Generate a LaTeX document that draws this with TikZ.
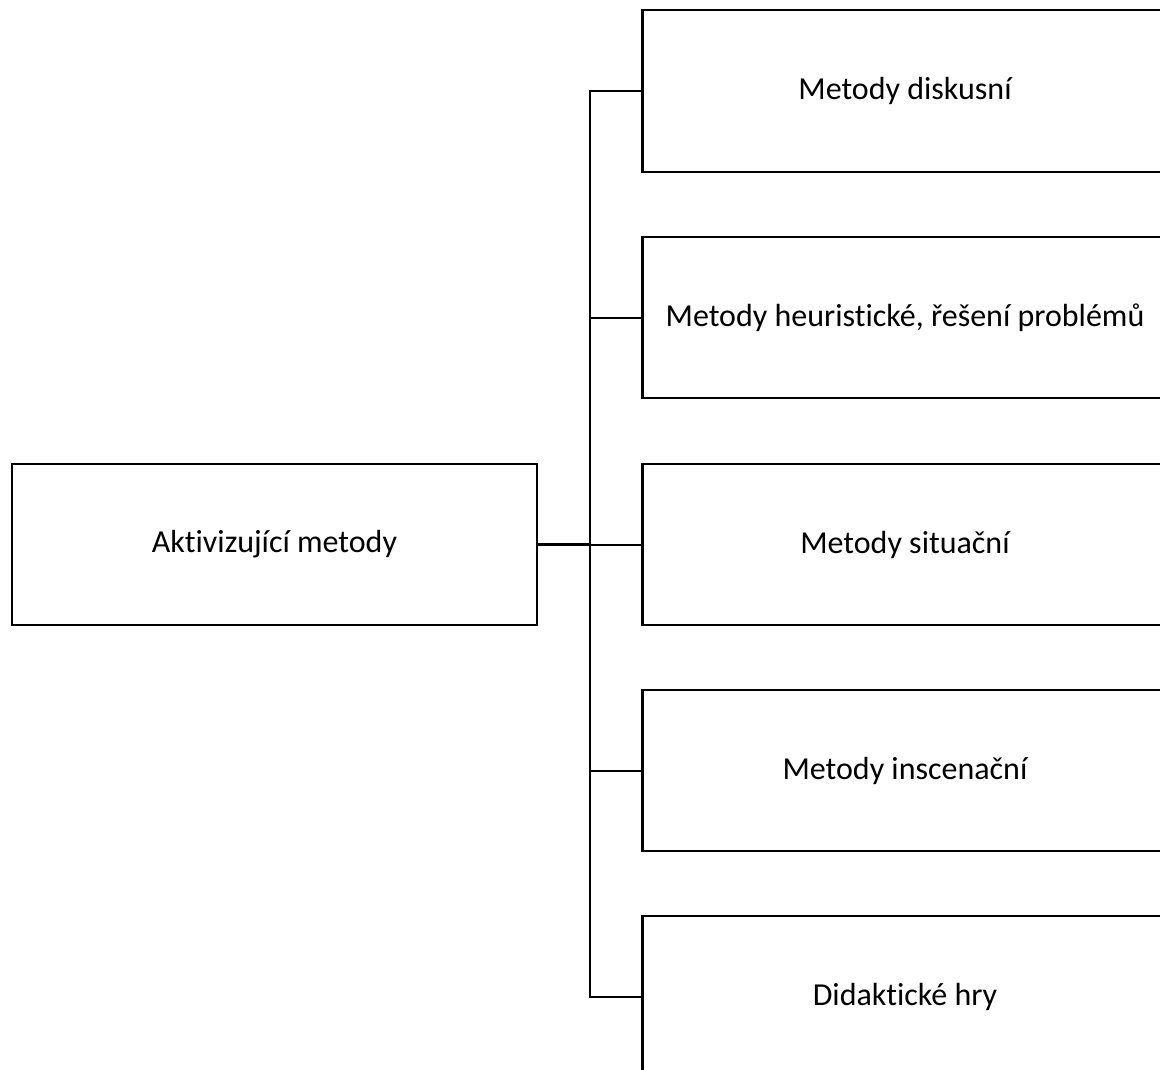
\documentclass[tikz,border=0pt]{standalone}
\usepackage{fontspec}
\setmainfont{Carlito}[Ligatures=NoCommon]
\begin{document}
\begin{tikzpicture}[x=0.75pt,y=-0.75pt,
  box/.style={draw=black,line width=1.6pt,rectangle,minimum width=393.75pt,minimum height=121pt,inner sep=0pt,font=\fontsize{24}{28}\selectfont,anchor=center},
  conn/.style={draw=black,line width=1.5pt}]
\useasboundingbox (0,0) rectangle (1160,1070);
\clip (0,0) rectangle (1160,1070);
\node[box] (root) at (274.5,544.5) {Aktivizující metody};
\node[box] (a) at (905,91) {Metody diskusní};
\node[box] (b) at (905,317.5) {Metody heuristické, řešení problémů};
\node[box] (c) at (905,544.5) {Metody situační};
\node[box] (d) at (905,770.5) {Metody inscenační};
\node[box] (e) at (905,997) {Didaktické hry};
\coordinate (j) at (590,544.5);
\draw[conn,line width=2.25pt] (root.east) -- (j);
\draw[conn] (j) -- (c.west);
\draw[conn] (a.west) -- (590,91) |- (e.west);
\draw[conn] (b.west) -- (590,317.5);
\draw[conn] (d.west) -- (590,770.5);
\end{tikzpicture}
\end{document}
